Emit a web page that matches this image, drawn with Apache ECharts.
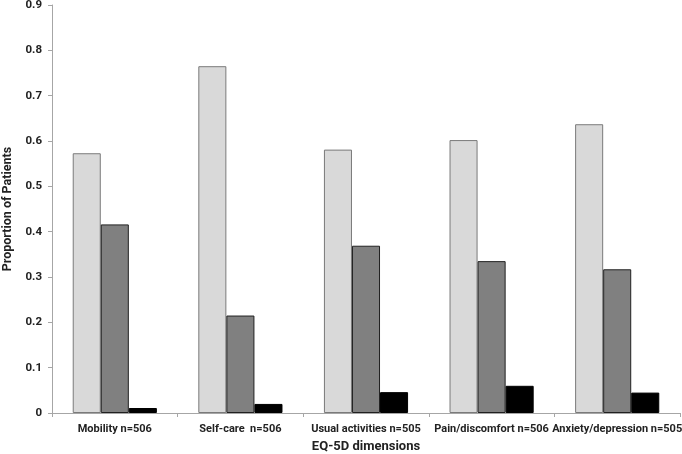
<!DOCTYPE html>
<html><head><meta charset="utf-8">
<script src="https://cdn.jsdelivr.net/npm/echarts@6/dist/echarts.min.js"></script>
<style>html,body{margin:0;padding:0;background:#fff}#c{width:682px;height:454px}</style>
</head><body><div id="c"></div>
<script>
const categories = ["Mobility n=506", "Self-care  n=506", "Usual activities n=505", "Pain/discomfort n=506", "Anxiety/depression n=505"];
const level1 = [0.573, 0.765, 0.581, 0.602, 0.637];
const level2 = [0.416, 0.215, 0.369, 0.335, 0.317];
const level3 = [0.011, 0.020, 0.046, 0.060, 0.045];
const yTicks = [0, 0.1, 0.2, 0.3, 0.4, 0.5, 0.6, 0.7, 0.8, 0.9];

const font = "Roboto, 'Open Sans', 'Liberation Sans', sans-serif";
const chart = echarts.init(document.getElementById('c'));
chart.setOption({
  animation: false,
  grid: {left: 52, right: 2, top: 5, bottom: 41, outerBoundsMode: 'none', containLabel: false},
  xAxis: {
    type: 'category', data: categories,
    name: 'EQ-5D dimensions', nameLocation: 'middle', nameGap: 25,
    nameTextStyle: {fontFamily: font, fontWeight: 'bold', fontSize: 13, color: '#222'},
    axisLine: {lineStyle: {color: '#a6a6a6'}},
    axisTick: {show: true, length: 4, lineStyle: {color: '#a6a6a6'}},
    axisLabel: {fontFamily: font, fontWeight: 'bold', fontSize: 11, color: '#222', margin: 11, interval: 0}
  },
  yAxis: {
    type: 'value', min: 0, max: 0.9, interval: 0.1,
    name: 'Proportion of Patients', nameLocation: 'middle', nameGap: 38,
    nameTextStyle: {fontFamily: font, fontWeight: 'bold', fontSize: 12.5, color: '#222'},
    splitLine: {show: false},
    axisLine: {show: true, lineStyle: {color: '#a6a6a6'}},
    axisTick: {show: true, length: 4, lineStyle: {color: '#a6a6a6'}},
    axisLabel: {fontFamily: font, fontWeight: 'bold', fontSize: 11.5, color: '#222', margin: 10,
      formatter: v => { const t = yTicks.find(x => Math.abs(x - v) < 1e-9); return t === 0 ? '0' : String(+t.toFixed(1)); }}
  },
  series: [
    {type: 'bar', data: level1, barGap: '0%', barCategoryGap: '33%',
     itemStyle: {color: '#d9d9d9', borderColor: '#7a7a7a', borderWidth: 1}},
    {type: 'bar', data: level2,
     itemStyle: {color: '#808080', borderColor: '#202020', borderWidth: 1}},
    {type: 'bar', data: level3,
     itemStyle: {color: '#000000', borderColor: '#000000', borderWidth: 1}}
  ]
});
</script></body></html>
